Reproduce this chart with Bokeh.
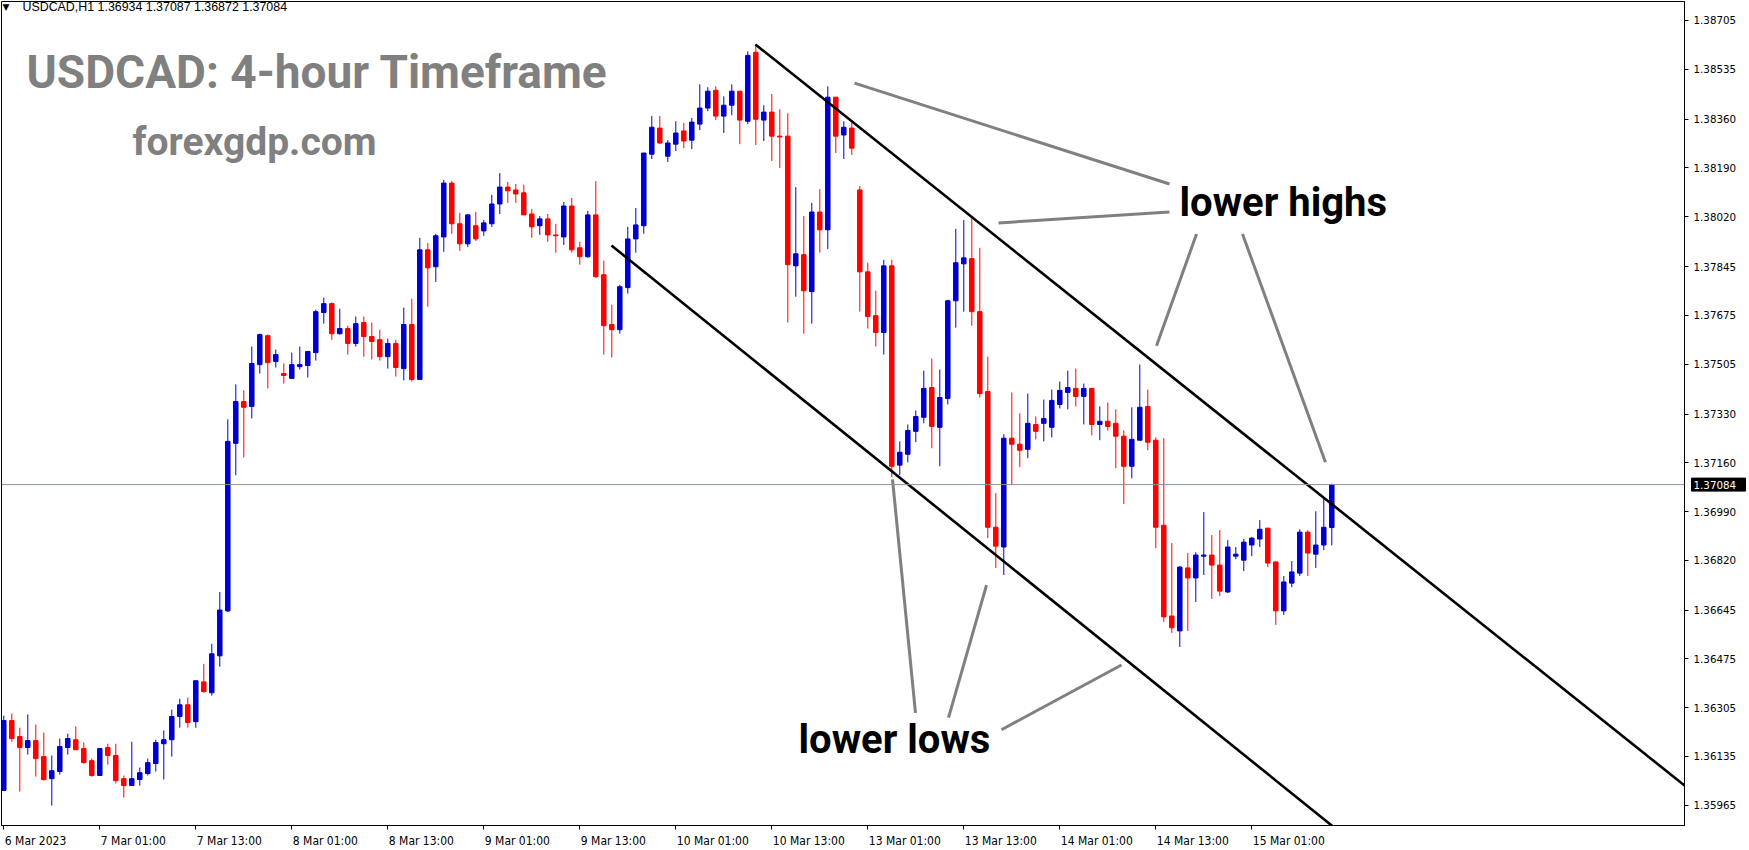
from bokeh.plotting import figure
from bokeh.layouts import row
from bokeh.models import (Range1d, FixedTicker, NumeralTickFormatter, Label, Span, ColumnDataSource,
                          CustomJSTickFormatter)
from bokeh.core.properties import value
from bokeh.embed import file_html
from bokeh.resources import INLINE

# ---------------- data (USDCAD H1 candles, index 0 = 6 Mar 2023 13:00) ----------------
opens = [1.36016, 1.36260, 1.36204, 1.36166, 1.36190, 1.36134, 1.36057, 1.36082, 1.36166, 1.36193,
         1.36162, 1.36120, 1.36068, 1.36166, 1.36138, 1.36057, 1.36033, 1.36054, 1.36075, 1.36110,
         1.36179, 1.36193, 1.36274, 1.36315, 1.36256, 1.36395, 1.36357, 1.36486, 1.36643, 1.37228,
         1.37374, 1.37357, 1.37503, 1.37604, 1.37514, 1.37472, 1.37455, 1.37496, 1.37500, 1.37545,
         1.37685, 1.37716, 1.37611, 1.37629, 1.37577, 1.37650, 1.37601, 1.37590, 1.37531, 1.37577,
         1.37489, 1.37643, 1.37451, 1.37904, 1.37845, 1.37949, 1.38137, 1.37995, 1.37925, 1.37988,
         1.37970, 1.37995, 1.38064, 1.38123, 1.38113, 1.38103, 1.38029, 1.37988, 1.38012, 1.37956,
         1.37949, 1.38057, 1.37911, 1.37880, 1.38026, 1.37817, 1.37643, 1.37625, 1.37772, 1.37942,
         1.37988, 1.38238, 1.38329, 1.38231, 1.38273, 1.38319, 1.38287, 1.38343, 1.38399, 1.38461,
         1.38371, 1.38409, 1.38458, 1.38353, 1.38594, 1.38357, 1.38385, 1.38301, 1.38301, 1.37848,
         1.37887, 1.37758, 1.38036, 1.37974, 1.38437, 1.38305, 1.38329, 1.38113, 1.37827, 1.37674,
         1.37615, 1.37848, 1.37152, 1.37190, 1.37270, 1.37319, 1.37423, 1.37284, 1.37385, 1.37726,
         1.37855, 1.37873, 1.37688, 1.37409, 1.36935, 1.36866, 1.37246, 1.37225, 1.37207, 1.37294,
         1.37298, 1.37284, 1.37364, 1.37406, 1.37420, 1.37392, 1.37420, 1.37294, 1.37305, 1.37298,
         1.37253, 1.37148, 1.37239, 1.37357, 1.37239, 1.36942, 1.36625, 1.36573, 1.36793, 1.36758,
         1.36834, 1.36838, 1.36803, 1.36709, 1.36834, 1.36820, 1.36873, 1.36894, 1.36932, 1.36814,
         1.36643, 1.36740, 1.36775, 1.36918, 1.36841, 1.36873, 1.36934]
highs = [1.36277, 1.36284, 1.36235, 1.36281, 1.36246, 1.36218, 1.36138, 1.36197, 1.36214, 1.36239,
         1.36183, 1.36127, 1.36162, 1.36179, 1.36179, 1.36068, 1.36186, 1.36096, 1.36127, 1.36193,
         1.36225, 1.36298, 1.36336, 1.36340, 1.36399, 1.36458, 1.36528, 1.36709, 1.37312, 1.37434,
         1.37413, 1.37566, 1.37611, 1.37608, 1.37556, 1.37507, 1.37545, 1.37566, 1.37549, 1.37695,
         1.37737, 1.37720, 1.37698, 1.37639, 1.37671, 1.37671, 1.37650, 1.37625, 1.37594, 1.37590,
         1.37702, 1.37733, 1.37946, 1.37928, 1.37960, 1.38148, 1.38144, 1.38033, 1.38029, 1.38036,
         1.38008, 1.38096, 1.38172, 1.38141, 1.38134, 1.38131, 1.38047, 1.38022, 1.38029, 1.37995,
         1.38071, 1.38085, 1.37932, 1.38040, 1.38144, 1.37866, 1.37712, 1.37782, 1.37984, 1.38050,
         1.38242, 1.38371, 1.38371, 1.38287, 1.38353, 1.38347, 1.38364, 1.38482, 1.38472, 1.38475,
         1.38440, 1.38482, 1.38458, 1.38597, 1.38622, 1.38409, 1.38448, 1.38395, 1.38381, 1.38123,
         1.38022, 1.38068, 1.38116, 1.38475, 1.38437, 1.38353, 1.38347, 1.38127, 1.37859, 1.37761,
         1.37869, 1.37869, 1.37235, 1.37294, 1.37343, 1.37482, 1.37524, 1.37486, 1.37730, 1.37977,
         1.38008, 1.38015, 1.37911, 1.37531, 1.37054, 1.37260, 1.37406, 1.37333, 1.37402, 1.37322,
         1.37381, 1.37416, 1.37444, 1.37482, 1.37489, 1.37437, 1.37420, 1.37357, 1.37371, 1.37347,
         1.37273, 1.37354, 1.37503, 1.37416, 1.37249, 1.37246, 1.36880, 1.36800, 1.36845, 1.36848,
         1.36988, 1.36908, 1.36925, 1.36890, 1.36866, 1.36894, 1.36901, 1.36960, 1.36932, 1.36814,
         1.36765, 1.36817, 1.36928, 1.36925, 1.36991, 1.37040, 1.37087]
lows = [1.36016, 1.36186, 1.36012, 1.36141, 1.36064, 1.36050, 1.35963, 1.36071, 1.36141, 1.36158,
        1.36110, 1.36064, 1.36068, 1.36106, 1.36040, 1.35991, 1.36033, 1.36033, 1.36068, 1.36082,
        1.36054, 1.36134, 1.36235, 1.36235, 1.36235, 1.36357, 1.36347, 1.36448, 1.36639, 1.37117,
        1.37179, 1.37315, 1.37472, 1.37420, 1.37493, 1.37437, 1.37455, 1.37486, 1.37458, 1.37517,
        1.37646, 1.37590, 1.37608, 1.37538, 1.37566, 1.37531, 1.37521, 1.37517, 1.37489, 1.37461,
        1.37448, 1.37444, 1.37451, 1.37705, 1.37792, 1.37897, 1.37960, 1.37900, 1.37914, 1.37935,
        1.37953, 1.37984, 1.38029, 1.38068, 1.38068, 1.38026, 1.37946, 1.37956, 1.37932, 1.37894,
        1.37921, 1.37894, 1.37852, 1.37876, 1.37806, 1.37538, 1.37528, 1.37611, 1.37751, 1.37894,
        1.37960, 1.38221, 1.38273, 1.38211, 1.38249, 1.38259, 1.38256, 1.38322, 1.38388, 1.38357,
        1.38312, 1.38374, 1.38273, 1.38343, 1.38270, 1.38284, 1.38214, 1.38190, 1.37650, 1.37740,
        1.37611, 1.37646, 1.37894, 1.37907, 1.38242, 1.38221, 1.38235, 1.37688, 1.37629, 1.37566,
        1.37538, 1.37110, 1.37117, 1.37162, 1.37232, 1.37298, 1.37211, 1.37148, 1.37364, 1.37632,
        1.37688, 1.37639, 1.37388, 1.36897, 1.36793, 1.36768, 1.37082, 1.37145, 1.37176, 1.37242,
        1.37235, 1.37249, 1.37350, 1.37347, 1.37357, 1.37294, 1.37256, 1.37239, 1.37273, 1.37141,
        1.37016, 1.37106, 1.37239, 1.37204, 1.36862, 1.36604, 1.36566, 1.36517, 1.36573, 1.36674,
        1.36768, 1.36685, 1.36695, 1.36705, 1.36824, 1.36782, 1.36834, 1.36866, 1.36796, 1.36594,
        1.36629, 1.36726, 1.36765, 1.36765, 1.36793, 1.36855, 1.36872]
closes = [1.36260, 1.36197, 1.36166, 1.36190, 1.36127, 1.36054, 1.36085, 1.36169, 1.36197, 1.36158,
          1.36113, 1.36068, 1.36162, 1.36138, 1.36050, 1.36033, 1.36057, 1.36078, 1.36113, 1.36183,
          1.36193, 1.36274, 1.36315, 1.36253, 1.36399, 1.36361, 1.36493, 1.36646, 1.37235, 1.37374,
          1.37354, 1.37507, 1.37608, 1.37510, 1.37538, 1.37465, 1.37503, 1.37503, 1.37549, 1.37688,
          1.37716, 1.37611, 1.37629, 1.37577, 1.37646, 1.37601, 1.37584, 1.37531, 1.37577, 1.37493,
          1.37643, 1.37451, 1.37904, 1.37841, 1.37953, 1.38137, 1.37995, 1.37925, 1.38026, 1.37942,
          1.37998, 1.38064, 1.38123, 1.38110, 1.38099, 1.38026, 1.37984, 1.38012, 1.37956, 1.37953,
          1.38057, 1.37904, 1.37880, 1.38026, 1.37810, 1.37639, 1.37625, 1.37775, 1.37942, 1.37991,
          1.38242, 1.38332, 1.38277, 1.38277, 1.38312, 1.38284, 1.38350, 1.38399, 1.38458, 1.38371,
          1.38409, 1.38458, 1.38357, 1.38583, 1.38360, 1.38385, 1.38301, 1.38298, 1.37852, 1.37890,
          1.37761, 1.38036, 1.37974, 1.38437, 1.38301, 1.38332, 1.38259, 1.37827, 1.37671, 1.37615,
          1.37848, 1.37148, 1.37197, 1.37273, 1.37322, 1.37420, 1.37287, 1.37388, 1.37726, 1.37859,
          1.37876, 1.37688, 1.37402, 1.36935, 1.36869, 1.37246, 1.37225, 1.37204, 1.37298, 1.37270,
          1.37315, 1.37378, 1.37413, 1.37423, 1.37392, 1.37420, 1.37294, 1.37305, 1.37287, 1.37253,
          1.37148, 1.37242, 1.37354, 1.37232, 1.36935, 1.36622, 1.36584, 1.36796, 1.36758, 1.36838,
          1.36838, 1.36803, 1.36712, 1.36866, 1.36841, 1.36883, 1.36897, 1.36928, 1.36810, 1.36643,
          1.36744, 1.36779, 1.36918, 1.36845, 1.36873, 1.36935, 1.37084]

time_tick_index = [0, 12, 24, 36, 48, 60, 72, 84, 96, 108, 120, 132, 144, 156]
time_tick_labels = ["6 Mar 2023", "7 Mar 01:00", "7 Mar 13:00", "8 Mar 01:00", "8 Mar 13:00",
                    "9 Mar 01:00", "9 Mar 13:00", "10 Mar 01:00", "10 Mar 13:00", "13 Mar 01:00",
                    "13 Mar 13:00", "14 Mar 01:00", "14 Mar 13:00", "15 Mar 01:00"]
price_ticks = [1.38705, 1.38535, 1.38360, 1.38190, 1.38020, 1.37845, 1.37675, 1.37505, 1.37330,
               1.37160, 1.36990, 1.36820, 1.36645, 1.36475, 1.36305, 1.36135, 1.35965]
last_price = 1.37084

# trend channel (candle index, price)
channel_upper_x = [93.96, 210.1]
channel_upper_y = [1.38621, 1.36033]
channel_lower_x = [75.96, 210.1]
channel_lower_y = [1.37919, 1.34901]

# pointer lines (candle index, price)
pointer_xs = [[106.34, 145.71], [124.34, 145.71], [149.09, 144.09], [154.84, 165.21],
              [111.09, 113.96], [122.84, 118.09], [139.71, 124.71]]
pointer_ys = [[1.38486, 1.38134], [1.37998, 1.38036], [1.37959, 1.37569], [1.37959, 1.37162],
              [1.37102, 1.36287], [1.36733, 1.36270], [1.36454, 1.36228]]


# ---------------- layout helpers (screen position -> data position) ----------------
def sx(px):
    return (px - 3.3) / 8.0


def sy(py):
    return 1.387747 - py * 3.484e-5


BLUE = "#0000CD"
RED = "#FF0000"
W, H = 1749, 850
FRAME_L, FRAME_T, FRAME_R, FRAME_B = 1, 1, 1684, 827

idx = list(range(len(opens)))
colors = [BLUE if c > o else RED for o, c in zip(opens, closes)]
src = ColumnDataSource(dict(
    x=idx, o=opens, h=highs, l=lows, c=closes,
    top=[max(o, c) for o, c in zip(opens, closes)],
    bottom=[min(o, c) for o, c in zip(opens, closes)],
    color=colors))

x0, x1 = sx(FRAME_L), sx(FRAME_R)
y0, y1 = sy(FRAME_B), sy(FRAME_T)
yrange = Range1d(y0, y1)

p = figure(width=W, height=H, x_range=Range1d(x0, x1), y_range=yrange,
           output_backend="svg", toolbar_location=None, y_axis_location="right",
           min_border_left=FRAME_L, min_border_top=FRAME_T,
           min_border_right=W - FRAME_R, min_border_bottom=H - FRAME_B)
p.background_fill_color = "white"
p.border_fill_color = "white"
p.outline_line_color = "black"
p.outline_line_width = 1
p.xgrid.visible = False
p.ygrid.visible = False

# ---- price axis (right) ----
ya = p.yaxis[0]
ya.axis_label = None
ya.ticker = FixedTicker(ticks=price_ticks, minor_ticks=[])
ya.formatter = NumeralTickFormatter(format="0.00000")
ya.major_tick_out = 4
ya.major_tick_in = 0
ya.minor_tick_out = 0
ya.minor_tick_in = 0
ya.major_label_standoff = 5
ya.major_label_text_font = "DejaVu Sans"
ya.major_label_text_font_size = "10.3px"
ya.major_label_text_color = "black"
ya.axis_line_color = "black"
ya.major_tick_line_color = "black"

# ---- time axis (labels left-aligned on their tick) ----
char_w = {' ': 0.286, 'M': 0.776, 'a': 0.551, 'r': 0.369, ':': 0.303}
label_font_px = 12


def label_width(s):
    return sum(char_w.get(ch, 0.572) for ch in s) * label_font_px


label_pos = [t + (label_width(s) / 2 + 1) / 8.0 for t, s in zip(time_tick_index, time_tick_labels)]

xa = p.xaxis[0]
xa.axis_label = None
xa.ticker = FixedTicker(ticks=label_pos, minor_ticks=time_tick_index)
xa.formatter = CustomJSTickFormatter(args=dict(labels=time_tick_labels), code="return labels[index];")
xa.major_tick_out = 0
xa.major_tick_in = 0
xa.minor_tick_out = 4
xa.minor_tick_in = 0
xa.minor_tick_line_color = "black"
xa.major_label_standoff = 4
xa.major_label_text_font = "DejaVu Sans Condensed"
xa.major_label_text_font_size = f"{label_font_px}px"
xa.major_label_text_color = "black"
xa.axis_line_color = "black"

# current price line
p.add_layout(Span(location=last_price, dimension="width", line_color="#8a939c", line_width=1))

# candles
p.segment(x0="x", y0="l", x1="x", y1="h", line_color="color", line_width=1, source=src)
p.vbar(x="x", width=0.56, top="top", bottom="bottom", fill_color="color",
       line_color="color", line_width=1, source=src)

# channel
p.line(channel_upper_x, channel_upper_y, line_color="black", line_width=2.6)
p.line(channel_lower_x, channel_lower_y, line_color="black", line_width=2.6)

# pointer lines
p.multi_line(pointer_xs, pointer_ys, line_color="#808080", line_width=3)


# texts (Label y is the vertical centre of the text box)
def add_text(txt, left_px, base_px, size, color, font="Roboto", bold=True):
    p.add_layout(Label(x=sx(left_px), y=sy(base_px - 0.34 * size), text=txt, text_font=font,
                       text_font_style="bold" if bold else "normal",
                       text_font_size=f"{size}px", text_color=color,
                       text_baseline="alphabetic"))


add_text("USDCAD: 4-hour Timeframe", 26, 87, 46, "#808080")
add_text("forexgdp.com", 132, 155, 39, "#808080")
add_text("lower highs", 1179, 216, 40, "black")
add_text("lower lows", 798, 754, 40, "black")
add_text("\u25BC", 2, 10, 9, "black", font="DejaVu Sans", bold=False)
add_text("USDCAD,H1  1.36934 1.37087 1.36872 1.37084", 22, 11, 12.4, "black",
         font="Liberation Sans", bold=False)

# ---- current price tag drawn over the price axis (transparent overlay figure) ----
PANEL_W = W - FRAME_R
tag = figure(width=PANEL_W, height=H, x_range=Range1d(0, PANEL_W), y_range=yrange,
             output_backend="svg", toolbar_location=None, x_axis_location=None, y_axis_location=None,
             min_border_left=0, min_border_right=0, min_border_top=FRAME_T,
             min_border_bottom=H - FRAME_B, margin=(0, 0, 0, -PANEL_W))
tag.background_fill_color = None
tag.border_fill_color = None
tag.outline_line_color = None
tag.xgrid.visible = False
tag.ygrid.visible = False
tag.rect(x=[34], y=[last_price], width=54, height=13, height_units="screen",
         fill_color="black", line_color="black")
tag.text(x=[9], y=[last_price], text=[f"{last_price:.5f}"], text_color="white",
         text_font=value("DejaVu Sans"), text_font_size=value("10.3px"),
         text_baseline="middle", text_align="left")

layout = row(p, tag)
open("out.html", "w").write(file_html(layout, INLINE))
